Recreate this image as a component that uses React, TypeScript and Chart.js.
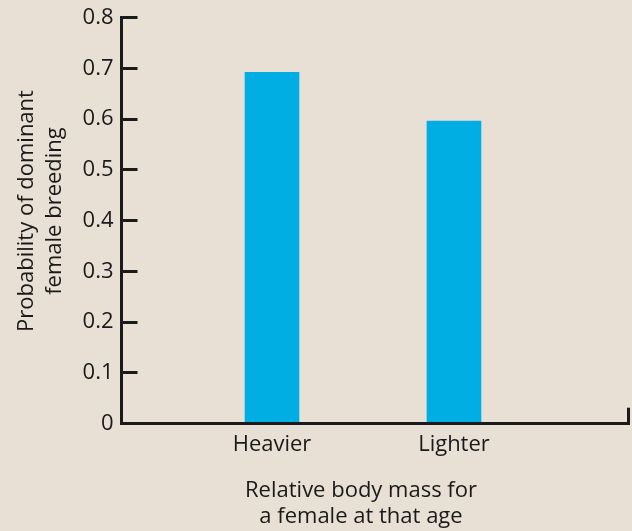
import React, { useEffect, useRef } from "react";
import { Chart, registerables } from "chart.js";

Chart.register(...registerables);

// ---- data ----
const categories: string[] = ["Heavier", "Lighter"];
const probabilities: number[] = [0.692, 0.596];
const yMin = 0;
const yMax = 0.8;
const yStep = 0.1;
const xTitleLines: string[] = ["Relative body mass for", "a female at that age"];
const yTitleLines: string[] = ["Probability of dominant", "female breeding"];

// ---- style ----
const BG = "#e8e0d4";
const BAR = "#00aee3";
const INK = "#1a1a1a";
const FONT = '"Open Sans", "Noto Sans", sans-serif';
const X_MIN = 0.173;
const X_MAX = 2.959;

const titlesPlugin = {
  id: "axisTitles",
  afterDraw(chart: any) {
    const { ctx } = chart;
    ctx.save();
    ctx.fillStyle = INK;
    ctx.font = `22px ${FONT}`;
    ctx.textAlign = "center";
    ctx.textBaseline = "alphabetic";
    xTitleLines.forEach((line, i) => {
      ctx.fillText(line, 361, 497 + i * 26);
    });
    yTitleLines.forEach((line, i) => {
      ctx.save();
      ctx.translate(33 + i * 27.5, 211);
      ctx.rotate(-Math.PI / 2);
      ctx.fillText(line, 0, 0);
      ctx.restore();
    });
    ctx.restore();
  },
};

export default function App() {
  const ref = useRef<HTMLCanvasElement | null>(null);

  useEffect(() => {
    if (!ref.current) return;
    const chart = new Chart(ref.current, {
      type: "bar",
      data: {
        datasets: [
          {
            data: categories.map((c, i) => ({ x: i + 1, y: probabilities[i] })),
            backgroundColor: BAR,
            borderWidth: 0,
            barThickness: 54,
          },
        ],
      },
      options: {
        responsive: false,
        animation: false,
        events: [],
        layout: { autoPadding: false, padding: { top: 17.5, right: 3.5, left: 0, bottom: 0 } },
        plugins: {
          legend: { display: false },
          tooltip: { enabled: false },
        },
        scales: {
          x: {
            type: "linear",
            min: X_MIN,
            max: X_MAX,
            offset: false,
            afterBuildTicks: (scale: any) => {
              scale.ticks = [
                ...categories.map((_, i) => ({ value: i + 1 })),
                { value: X_MAX },
              ];
            },
            afterFit: (scale: any) => {
              scale.height = 107.3;
              scale.paddingLeft = 0;
              scale.paddingRight = 0;
            },
            grid: {
              offset: false,
              drawOnChartArea: false,
              drawTicks: true,
              tickLength: -16,
              tickWidth: 3,
              tickColor: (ctx: any) =>
                ctx.tick && ctx.tick.value === X_MAX ? INK : "rgba(0,0,0,0)",
            },
            border: { display: true, color: INK, width: 3, z: 1 },
            ticks: {
              autoSkip: false,
              maxRotation: 0,
              minRotation: 0,
              padding: 24,
              color: INK,
              font: { family: FONT, size: 22, lineHeight: 1.2 },
              callback: (value: any) => {
                const idx = Math.round(Number(value)) - 1;
                return Math.abs(Number(value) - (idx + 1)) < 1e-6 && categories[idx]
                  ? categories[idx]
                  : "";
              },
            },
          },
          y: {
            type: "linear",
            min: yMin,
            max: yMax,
            afterFit: (scale: any) => {
              scale.width = 121.5;
              scale.paddingTop = 0;
              scale.paddingBottom = 0;
            },
            grid: {
              drawOnChartArea: false,
              drawTicks: true,
              tickLength: -16,
              tickWidth: 3,
              tickColor: INK,
            },
            border: { display: true, color: INK, width: 3 },
            ticks: {
              stepSize: yStep,
              padding: 24,
              color: INK,
              font: { family: FONT, size: 22, lineHeight: 1.2 },
              callback: (value: any) => String(Number(Number(value).toFixed(1))),
            },
          },
        },
      },
      plugins: [titlesPlugin],
    } as any);
    return () => chart.destroy();
  }, []);

  return (
    <div
      style={{
        position: "fixed",
        left: 0,
        top: 0,
        width: 632,
        height: 531,
        background: BG,
      }}
    >
      <canvas ref={ref} width={632} height={531} style={{ display: "block" }} />
    </div>
  );
}
